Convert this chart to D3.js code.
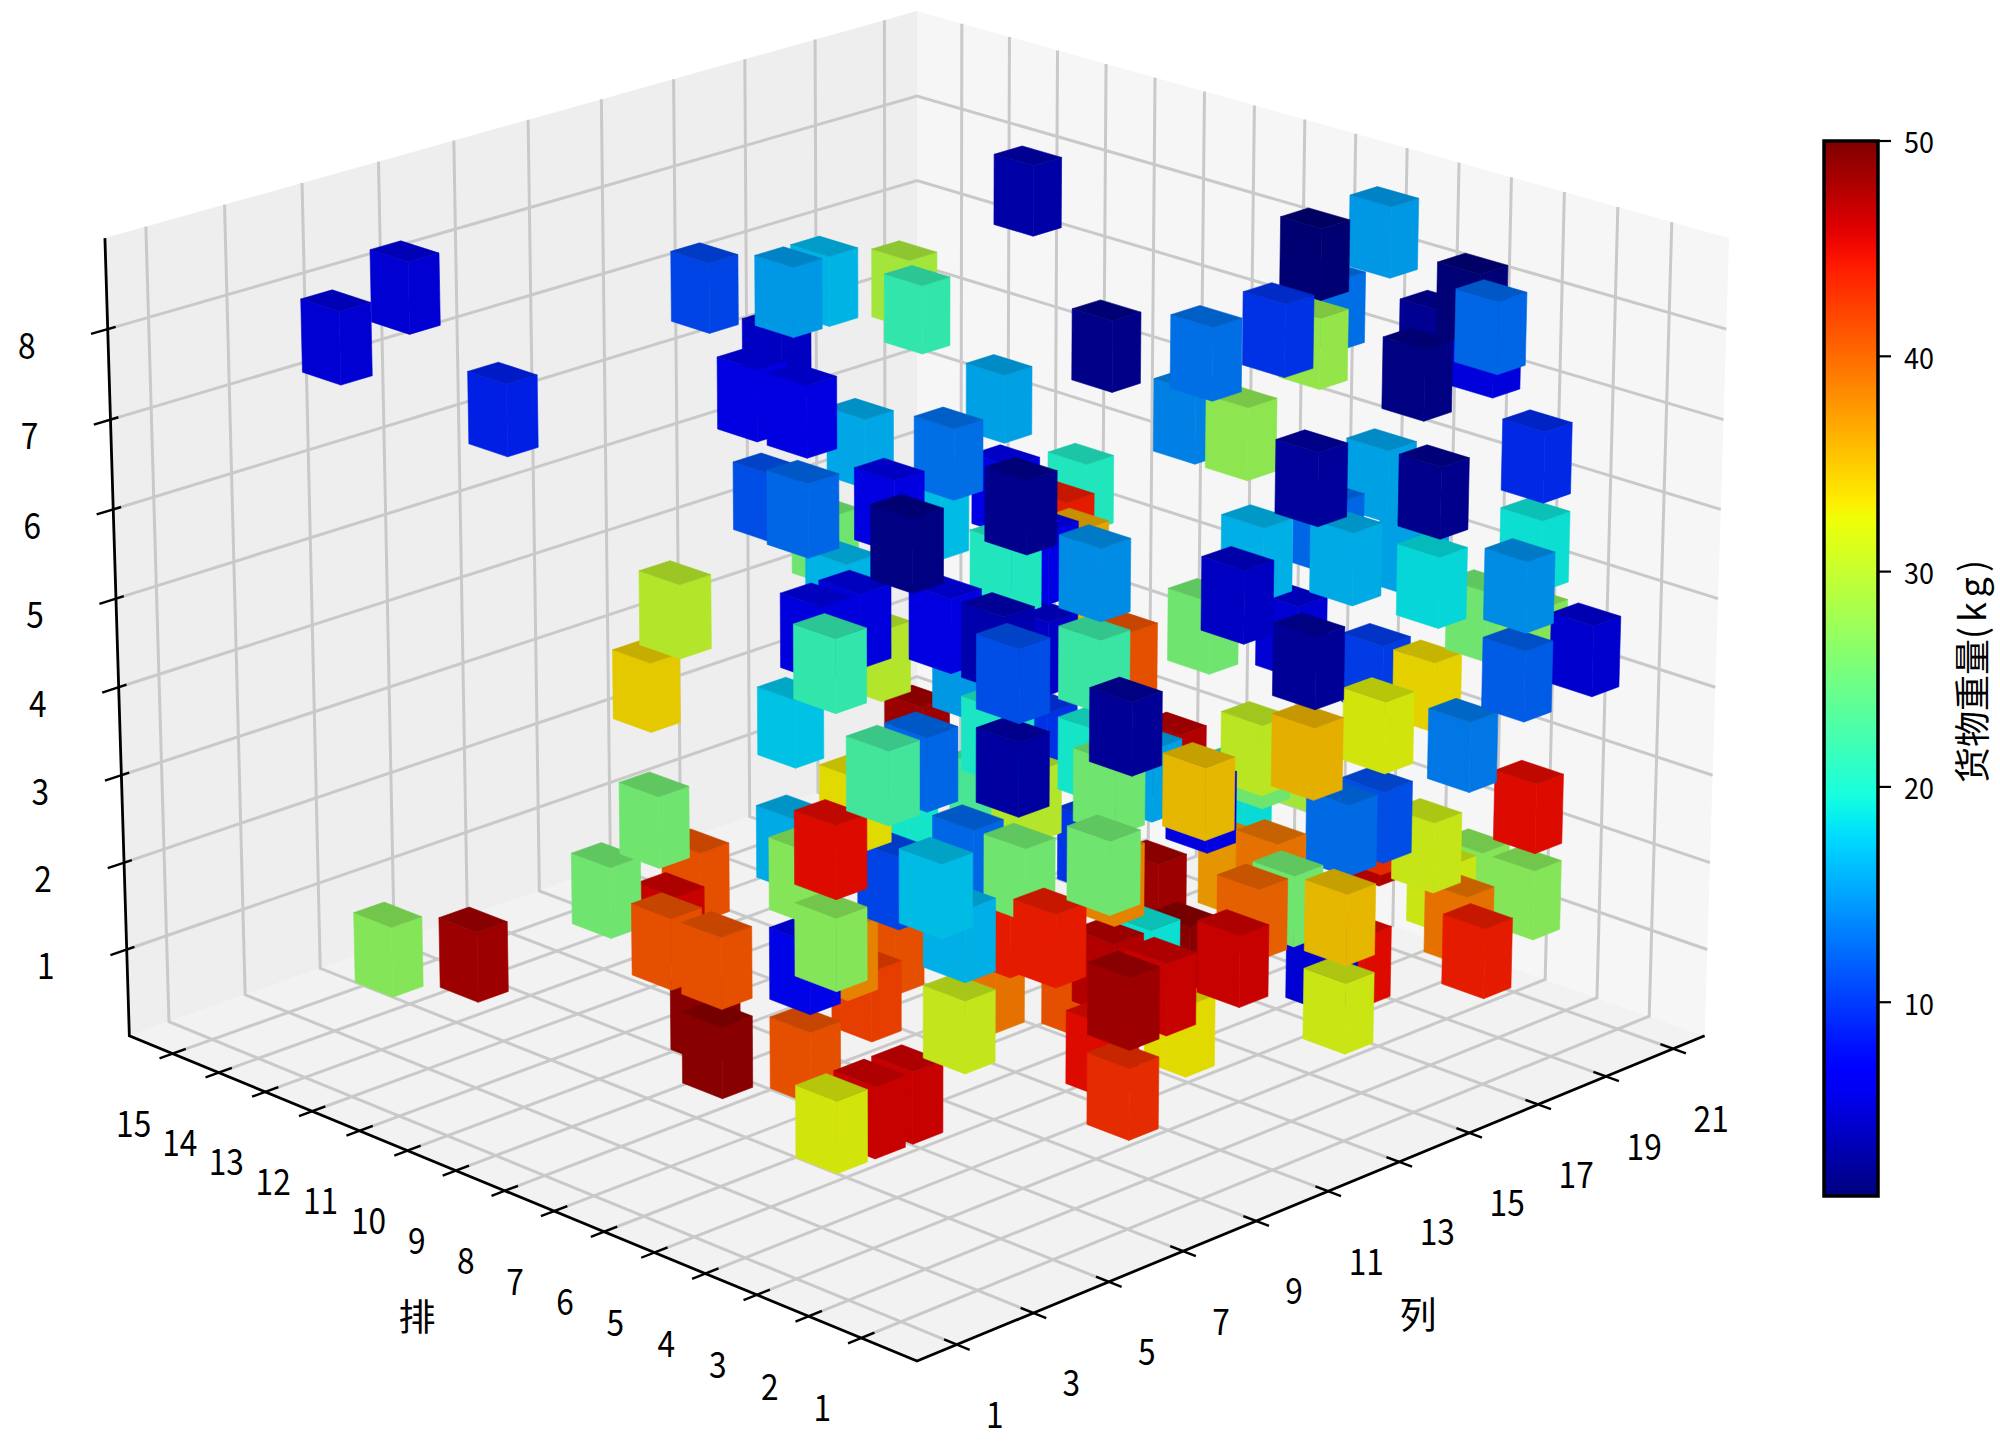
<!DOCTYPE html><html><head><meta charset="utf-8"><script src="https://cdn.jsdelivr.net/npm/d3@7"></script>
<style>html,body{margin:0;background:#fff}svg{display:block}text{font-family:'Noto Sans CJK SC',sans-serif;fill:#000}</style></head><body><svg id="c" width="2000" height="1447"></svg><script>
const rows=[11,8,14,15,13,13,14,11,10,9, 13,9,13,12,6,6,7,6,4,4, 5,4,4,5,3,2,4,3,2,4, 3,3,3,2,4,3,3,2,4,3, 2,2,2,3,2,4,6,5,2,2, 5,3,3,9,2,4,7,4,8,3, 2,4,3,1,2,5,2,4,3,5, 4,4,8,6,15,13,6,10,5,10, 4,5,4,10,11,11,9,4,5,5, 13,7,13,9,10,12,11,8,7,8, 7,6,4,4,4,7,4,6,4,6, 6,7,8,5,2,3,5,2,6,3, 5,1,2,2,3,2,5,3,7,3, 2,3,2,4,3,2,1,2,3,2, 2,6,4,3,4,3,2,3,4,12, 5,3,3,14,3,5,9,6,4,4, 7,5,4,3,13,14,12,13];
const cols=[18,16,19,20,15,14,13,11,9,9, 16,13,20,21,19,21,21,19,15,13, 14,14,19,21,19,18,21,21,13,18, 18,13,15,14,19,18,21,19,21,21, 19,21,13,14,11,13,21,21,15,13, 16,19,21,18,8,16,19,14,18,10, 10,13,9,6,5,10,5,10,6,10, 6,5,10,5,16,15,6,14,10,16, 8,9,10,18,20,19,11,3,4,5, 14,3,10,5,5,10,8,4,4,5, 4,5,3,4,5,6,3,5,3,5, 6,8,10,6,3,5,9,6,10,5, 11,6,8,8,9,9,14,10,16,11, 11,13,11,15,14,14,12,14,16,14, 15,21,18,18,20,19,18,21,21,4, 5,3,4,19,6,8,14,11,10,10, 9,8,8,9,2,5,5,3];
const layers=[8,7,6,6,7,7,7,7,7,7, 5,6,5,4,8,8,7,7,8,8, 7,7,7,7,8,8,7,6,7,6, 6,6,6,6,5,5,5,5,4,4, 4,4,5,5,6,5,3,3,4,4, 3,3,2,3,5,3,2,3,2,4, 4,3,4,4,5,4,6,5,6,5, 6,7,6,7,4,4,6,5,6,5, 7,6,6,4,3,4,4,6,6,6, 2,6,3,3,2,1,1,2,2,1, 1,1,1,1,1,3,4,3,3,2, 2,1,1,3,4,3,2,3,1,2, 1,2,2,1,2,2,1,2,1,1, 2,2,3,2,2,2,2,1,1,3, 3,1,2,2,1,1,1,1,1,1, 4,5,5,1,5,5,2,3,4,3, 3,3,3,3,8,8,7,1];
const weights=[3.5,2,21.5,29,16.7,15.2,10.8,4.8,6.2,6.2, 16,13,15.7,20.3,1,15.2,13,28,9.8,13, 14,27.5,1.8,2.5,1.2,12.6,6,9.3,2.9,15.7, 2.2,16.5,12.6,16.2,15.7,18.6,19,14.6,25.5,27, 12,5.3,2.7,5.5,4.8,25.5,10.3,33.5,32,35.5, 30.5,13.5,45,41,2.7,29,25.5,18.8,47,15.7, 35,6.2,25.5,25.5,3.2,9.8,11.3,22,3.7,5, 6.2,1.8,6.2,12.6,11.3,25.5,16.7,17.2,6.5,6.5, 2.2,20.3,14.6,36,35,44,30,21.5,6,6, 17.5,30,34,25.5,25.5,41,46,41,41,49, 49,41,32,46,46,16.2,45,27,27,7.3, 38,42,41,10.8,17.2,16.5,44,44,39,31, 41,45,48,43,47,46,49,19,48,33, 46,40,37,39,25.5,35,5.5,31.5,45,12.8, 11.3,47,43,31.3,31.5,39,44,27,27,48, 33,22.6,12.6,48,20,15.2,23,30,19.5,10, 19.5,12.6,25.5,38,5.5,5.5,8.8,27];
// occlusion: [cube in front, cube behind], 1-based
const frontOf=[[6,8],[9,8],[10,8],[10,9],[136,137],[138,137],[135,137],[124,122],[123,122],[123,124],[132,133],[135,133],[134,133],[62,133],[61,62],[51,58],[57,58],[56,58],[50,58],[51,57],[61,58],[61,57],[158,160],[63,160],[64,160],[159,160],[136,135],[131,132],[131,133],[132,135]];
const rowTicks=[1,2,3,4,5,6,7,8,9,10,11,12,13,14,15];
const colTicks=[1,3,5,7,9,11,13,15,17,19,21];
const layerTicks=[1,2,3,4,5,6,7,8];
const barTicks=[10,20,30,40,50];
const svg=d3.select('#c');
const rMin=-.05,rMax=15.95,cMin=-.03,cMax=21.95,zMin=0,zMax=9;
const U=d3.scaleLinear([rMin,rMax],[0,1]),V=d3.scaleLinear([cMin,cMax],[0,1]),W=d3.scaleLinear([zMin,zMax],[0,1]);
function cam(r,c,z){const u=U(r),v=V(c),w=W(z),t=(1-u-v)*.8415,l=(v-u)*.8415,zr=(w-.5)*.893,d=10-t*.9397-zr*.342,y=-.342*t+.9397*zr;return {x:917+9503*l/d,y:643-9503*y/d,d};}
const P=(r,c,z)=>{const p=cam(r,c,z);return [p.x,p.y];};
const line=d3.line();
const chan=(xs,ys)=>d3.scaleLinear(xs,ys).clamp(true);
const jr=chan([0,.35,.66,.89,1],[0,0,1,1,.5]),jg=chan([0,.125,.375,.64,.91,1],[0,0,1,1,0,0]),jb=chan([0,.11,.34,.65,1],[.5,1,1,0,0]);
const T=d3.scaleLinear([1,50],[0,1]);
const jet=(w,m=1)=>{const t=T(w);return `rgb(${jr(t)*255*m|0},${jg(t)*255*m|0},${jb(t)*255*m|0})`;};
const poly=(pts,fill)=>svg.append('path').attr('d',line(pts)+'Z').attr('fill',fill);
poly([P(rMin,cMin,0),P(rMax,cMin,0),P(rMax,cMax,0),P(rMin,cMax,0)],'#f2f2f2');
poly([P(rMax,cMin,0),P(rMax,cMax,0),P(rMax,cMax,zMax),P(rMax,cMin,zMax)],'#eeeeee');
poly([P(rMax,cMax,0),P(rMin,cMax,0),P(rMin,cMax,zMax),P(rMax,cMax,zMax)],'#f6f6f6');
const gl=(pts)=>svg.append('path').attr('d',line(pts)).attr('fill','none').attr('stroke','#c9c9c9').attr('stroke-width',3);
rowTicks.forEach(r=>{gl([P(r,cMin,0),P(r,cMax,0),P(r,cMax,zMax)]);});
colTicks.forEach(c=>{gl([P(rMin,c,0),P(rMax,c,0),P(rMax,c,zMax)]);});
layerTicks.forEach(z=>{gl([P(rMax,cMin,z),P(rMax,cMax,z),P(rMin,cMax,z)]);});
const al=(pts,w=2.8)=>svg.append('path').attr('d',line(pts)).attr('fill','none').attr('stroke','#000').attr('stroke-width',w);
al([P(rMax,cMin,zMax),P(rMax,cMin,0),P(rMin,cMin,0),P(rMin,cMax,0)]);
rowTicks.forEach(r=>al([P(r,cMin-.34,0),P(r,cMin+.34,0)],2.4));
colTicks.forEach(c=>al([P(rMin-.24,c,0),P(rMin+.24,c,0)],2.4));
layerTicks.forEach(z=>al([P(rMax,cMin-.42,z),P(rMax,cMin+.2,z)],2.4));
let order=d3.range(rows.length).sort((a,b)=>cam(rows[b]-.2,cols[b],layers[b]+.2).d-cam(rows[a]-.2,cols[a],layers[a]+.2).d);
for(let pass=0;pass<3;pass++)frontOf.forEach(([f,b])=>{const fi=order.indexOf(f-1),bi=order.indexOf(b-1);if(fi<bi){order.splice(fi,1);order.splice(bi,0,f-1);}});
const g=svg.append('g');
order.forEach(i=>{const r=rows[i],c=cols[i],k=layers[i],w=weights[i];
 const r1=r-.6,r2=r+.2,c1=c-.4,c2=c+.4,z1=k-.2,z2=k+.6;
 const fs=[[[[r1,c1,z1],[r2,c1,z1],[r2,c1,z2],[r1,c1,z2]],.9],[[[r1,c1,z1],[r1,c2,z1],[r1,c2,z2],[r1,c1,z2]],.9],[[[r1,c1,z2],[r2,c1,z2],[r2,c2,z2],[r1,c2,z2]],.78]];
 g.append('g').selectAll('path').data(fs).join('path').attr('d',f=>line(f[0].map(q=>P(...q)))+'Z').attr('fill',f=>jet(w,f[1])).attr('stroke',f=>jet(w,f[1])).attr('stroke-width',.6);
});
const lab=(s,x,y,sz=36,sx=.88)=>svg.append('text').attr('transform',`translate(${x},${y}) scale(${sx},1)`).attr('text-anchor','middle').attr('dominant-baseline','central').attr('font-size',sz).text(s);
rowTicks.forEach(r=>{const p=P(r,cMin,0);lab(r,p[0]-39,p[1]+68);});
colTicks.forEach(c=>{const p=P(rMin,c,0);lab(c,p[0]+38,p[1]+68);});
layerTicks.forEach(z=>{const p=P(rMax,cMin,z);lab(z,p[0]-81,p[1]+14);});
lab('排',417,1315,37,1);lab('列',1418,1313,37,1);
const Y=d3.scaleLinear([1,50],[1196,141]);
const grad=svg.append('defs').append('linearGradient').attr('id','g').attr('x1',0).attr('x2',0).attr('y1',1).attr('y2',0);
d3.range(0,1.0001,.02).forEach(t=>grad.append('stop').attr('offset',t).attr('stop-color',jet(1+49*t)));
svg.append('rect').attr('x',1824).attr('y',141).attr('width',54).attr('height',1055).attr('fill','url(#g)').attr('stroke','#000').attr('stroke-width',3.5);
barTicks.forEach(v=>{svg.append('line').attr('x1',1878).attr('x2',1891).attr('y1',Y(v)).attr('y2',Y(v)).attr('stroke','#000').attr('stroke-width',2.2);
 svg.append('text').attr('transform',`translate(1904,${Y(v)}) scale(.93,1)`).attr('dominant-baseline','central').attr('font-size',29).text(v);});
const cb=svg.append('text').attr('transform','translate(1970,669) rotate(-90)').attr('text-anchor','middle').attr('dominant-baseline','central').attr('font-size',36);
cb.append('tspan').text('货物重量');
cb.append('tspan').attr('letter-spacing',5).text('(kg)');
</script></body></html>
